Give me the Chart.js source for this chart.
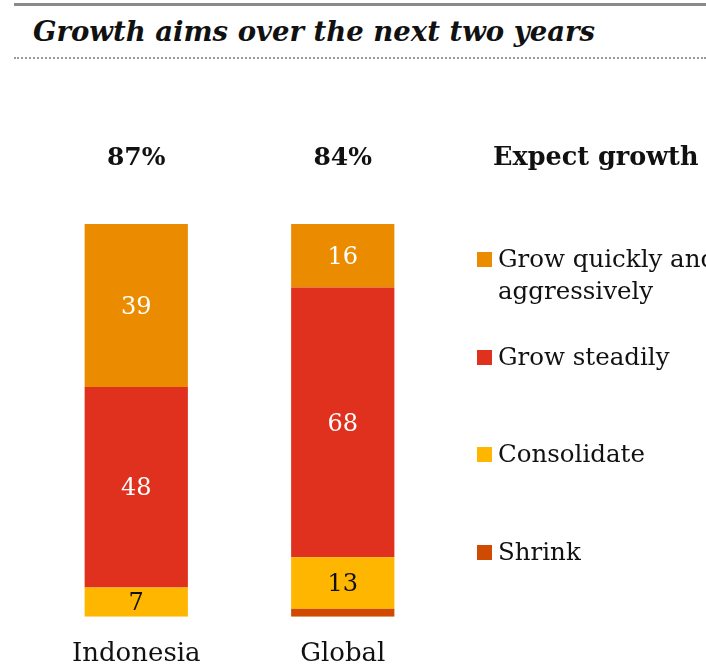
<!DOCTYPE html>
<html>
<head>
<meta charset="utf-8">
<script src="https://cdn.jsdelivr.net/npm/chart.js@4"></script>
<style>
  html, body { margin: 0; padding: 0; background: #fff; }
  body { width: 706px; height: 666px; position: relative; overflow: hidden; font-family: "DejaVu Serif", serif; }
  .topline { position: absolute; left: 14px; right: 0; top: 3px; height: 3px; background: #8a8a8a; }
  .title { position: absolute; left: 33px; top: 15px; font-size: 27.5px; font-weight: bold; font-style: italic; color: #111; white-space: nowrap; }
  .dots { position: absolute; left: 14px; right: 0; top: 57px; border-top: 2px dotted #9a9a9a; }
  #chart { position: absolute; left: 0; top: 0; }
  .legend { position: absolute; left: 477px; top: 0; width: 260px; }
  .legend h3 { position: absolute; left: 16px; top: 141px; margin: 0; font-size: 25.5px; font-weight: bold; white-space: nowrap; color: #111; }
  .item { position: absolute; left: 0; font-size: 24.5px; line-height: 32px; color: #111; }
  .item i { position: absolute; left: 0; top: 9px; width: 15px; height: 15px; }
  .item span { display: block; padding-left: 21px; width: 240px; }
</style>
</head>
<body>
<div class="topline"></div>
<div class="title">Growth aims over the next two years</div>
<div class="dots"></div>
<canvas id="chart" width="706" height="692"></canvas>
<div class="legend" id="legend"><h3>Expect growth</h3></div>
<script>
const categories = ['Indonesia', 'Global'];
const expectGrowth = [87, 84];

// stack order, bottom to top
const seriesNames = ['Shrink', 'Consolidate', 'Grow steadily', 'Grow quickly and aggressively'];
const shrink = [0, 2];
const consolidate = [7, 13];
const growSteadily = [48, 68];
const growQuickly = [39, 16];

const seriesValues = [shrink, consolidate, growSteadily, growQuickly];
const seriesColors = ['#D04A02', '#FFB600', '#E0301E', '#EB8C00'];
const labelColors = [null, '#111', '#fff', '#fff'];
const legendTops = [536, 438, 341, 243];

const serif = '"DejaVu Serif", serif';

// each country gets its own value axis so both columns fill the full height
const datasets = [];
seriesNames.forEach((name, s) => {
  categories.forEach((cat, c) => {
    datasets.push({
      label: name,
      data: categories.map((_, j) => j === c ? seriesValues[s][c] : null),
      backgroundColor: seriesColors[s],
      yAxisID: 'y' + c,
      seriesIndex: s,
      catIndex: c,
      barPercentage: 0.5,
      categoryPercentage: 1
    });
  });
});

const totals = categories.map((_, c) => seriesValues.reduce((a, v) => a + v[c], 0));

const segmentLabels = {
  id: 'segmentLabels',
  afterDatasetsDraw(chart) {
    const ctx = chart.ctx;
    ctx.save();
    ctx.textAlign = 'center';
    ctx.textBaseline = 'middle';
    ctx.font = '24px ' + serif;
    chart.data.datasets.forEach((ds, i) => {
      const color = labelColors[ds.seriesIndex];
      const v = ds.data[ds.catIndex];
      if (!color || !v) return;
      const el = chart.getDatasetMeta(i).data[ds.catIndex];
      ctx.fillStyle = color;
      ctx.fillText(String(v), el.x, (el.y + el.base) / 2 + 2);
    });
    ctx.font = 'bold 25px ' + serif;
    ctx.fillStyle = '#111';
    const x = chart.scales.x;
    expectGrowth.forEach((v, c) => {
      ctx.fillText(v + '%', x.getPixelForValue(c), 158);
    });
    ctx.restore();
  }
};

const scales = {
  x: {
    stacked: true,
    grid: { display: false, drawTicks: false },
    border: { display: false },
    ticks: { color: '#111', padding: 22, font: { family: serif, size: 26 } }
  }
};
categories.forEach((_, c) => {
  scales['y' + c] = { stacked: true, display: false, min: 0, max: totals[c] };
});

new Chart(document.getElementById('chart'), {
  type: 'bar',
  data: { labels: categories, datasets },
  options: {
    responsive: false,
    animation: false,
    layout: { padding: { left: 33, right: 260, top: 224, bottom: 0 } },
    plugins: { legend: { display: false }, tooltip: { enabled: false } },
    scales
  },
  plugins: [segmentLabels]
});

// legend, top to bottom
const legend = document.getElementById('legend');
[3, 2, 1, 0].forEach(s => {
  const item = document.createElement('div');
  item.className = 'item';
  item.style.top = legendTops[s] + 'px';
  item.innerHTML = `<i style="background:${seriesColors[s]}"></i><span>${seriesNames[s]}</span>`;
  legend.appendChild(item);
});
</script>
</body>
</html>
